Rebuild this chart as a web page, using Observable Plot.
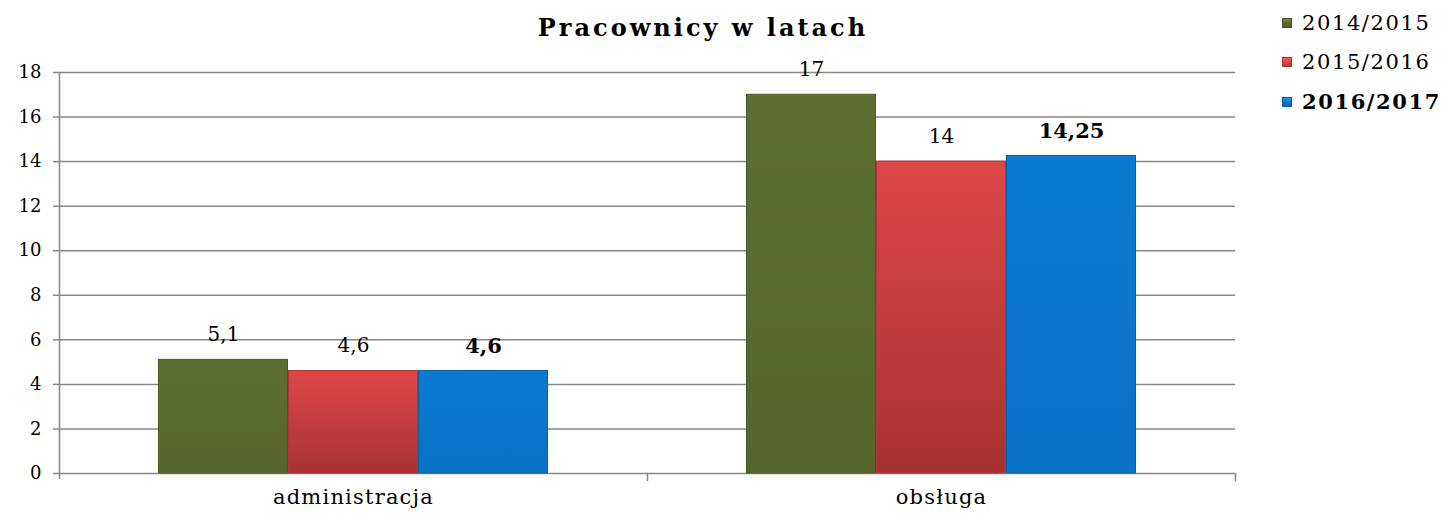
<!DOCTYPE html>
<html><head><meta charset="utf-8">
<script src="https://cdn.jsdelivr.net/npm/d3@7"></script>
<script src="https://cdn.jsdelivr.net/npm/@observablehq/plot@0.6"></script>
<style>
body{margin:0;background:#fff;}
#wrap{position:relative;width:1445px;height:518px;font-family:"DejaVu Serif",serif;color:#000;}
#title{position:absolute;left:0;width:1406px;top:12px;text-align:center;font-weight:bold;font-size:24px;letter-spacing:3px;line-height:32px;}
#legend{position:absolute;left:1282px;top:3px;}
.item{display:flex;align-items:center;height:39.5px;font-size:21px;letter-spacing:1.6px;white-space:nowrap;}
.sw{width:10px;height:10px;margin-right:10px;flex:none;}
#chart{position:absolute;left:0;top:0;}
g[aria-label="fx-axis tick label"] text{letter-spacing:1.2px;}
</style></head>
<body>
<svg width="0" height="0" style="position:absolute">
<defs>
<linearGradient id="g0" x1="0" y1="0" x2="0" y2="1"><stop offset="0" stop-color="#5e6f31"/><stop offset="1" stop-color="#55652b"/></linearGradient>
<linearGradient id="g1" x1="0" y1="0" x2="0" y2="1"><stop offset="0" stop-color="#df4747"/><stop offset="1" stop-color="#a83232"/></linearGradient>
<linearGradient id="g2" x1="0" y1="0" x2="0" y2="1"><stop offset="0" stop-color="#0b7bd2"/><stop offset="1" stop-color="#0872c4"/></linearGradient>
</defs>
</svg>
<div id="wrap">
<div id="chart"></div>
<div id="title">Pracownicy w latach</div>
<div id="legend"></div>
</div>
<script>
const categories = ["administracja", "obsługa"];
const series = ["2014/2015", "2015/2016", "2016/2017"];
const values2014 = [5.1, 17];
const values2015 = [4.6, 14];
const values2016 = [4.6, 14.25];
const yTicks = [0, 2, 4, 6, 8, 10, 12, 14, 16, 18];
const swatchColors = ["#5a6b2e", "#d94444", "#0a78cc"];
const boldSeries = "2016/2017";

const allValues = [values2014, values2015, values2016];
const rows = [];
series.forEach((s, i) => categories.forEach((c, j) => rows.push({cat: c, series: s, value: allValues[i][j], idx: i})));
const fmt = d => String(d).replace(".", ",");
const gridColor = "#868686";
const tickShape = {draw(context, l) { context.moveTo(0, 0); context.lineTo(0, -l); }};

const barMarks = series.map((s, i) => Plot.barY(rows.filter(r => r.series === s), {
  fx: "cat", x: "series", y: "value", fill: `url(#g${i})`, stroke: d3.color(swatchColors[i]).darker(0.6).formatHex(), strokeWidth: 1, insetLeft: 0.5, insetRight: 0.5
}));

const chart = Plot.plot({
  width: 1445, height: 518,
  marginLeft: 58, marginRight: 210, marginTop: 72, marginBottom: 45,
  style: {fontFamily: "DejaVu Serif", fontSize: "18px", color: "#000", background: "transparent", overflow: "visible"},
  fx: {domain: categories, padding: 0, label: null},
  x: {domain: series, paddingInner: 0, paddingOuter: 0.746, axis: null},
  y: {domain: [0, 18], axis: null},
  marks: [
    Plot.ruleY(yTicks, {stroke: gridColor, strokeWidth: 1.5, strokeOpacity: 1}),
    Plot.axisY({ticks: yTicks, tickSize: 6, tickPadding: 12, stroke: gridColor, strokeWidth: 1.5, strokeOpacity: 1, fontSize: 18, tickFormat: d => d, label: null, facetAnchor: "left"}),
    Plot.frame({anchor: "left", stroke: gridColor, strokeWidth: 1.5, strokeOpacity: 1, facetAnchor: "left"}),
    Plot.axisFx({anchor: "bottom", tickSize: 0, tickPadding: 16, fontSize: 21, label: null}),
    ...barMarks,
    Plot.text(rows.filter(r => r.series !== boldSeries), {fx: "cat", x: "series", y: "value", text: d => fmt(d.value), dy: -25, fontSize: 20, fill: "#000"}),
    Plot.text(rows.filter(r => r.series === boldSeries), {fx: "cat", x: "series", y: "value", text: d => fmt(d.value), dy: -25, fontSize: 21, fontWeight: "bold", fill: "#000"}),
    Plot.vector([0], {frameAnchor: "bottom-right", length: 7, rotate: 180, anchor: "start", shape: tickShape, stroke: gridColor, strokeWidth: 1.5}),
    Plot.vector([0], {frameAnchor: "bottom-left", length: 5, rotate: 180, anchor: "start", shape: tickShape, stroke: gridColor, strokeWidth: 1.5, facetAnchor: "left"})
  ]
});
document.getElementById("chart").appendChild(chart);

const legend = document.getElementById("legend");
series.forEach((s, i) => {
  const item = document.createElement("div");
  item.className = "item";
  if (s === boldSeries) item.style.fontWeight = "bold";
  const sw = document.createElement("div");
  sw.className = "sw";
  sw.style.background = `linear-gradient(${d3.color(swatchColors[i]).brighter(0.8)}, ${swatchColors[i]} 45%, ${d3.color(swatchColors[i]).darker(0.4)})`;
  sw.style.border = `1px solid ${d3.color(swatchColors[i]).darker(0.8)}`;
  sw.style.boxSizing = "border-box";
  const t = document.createElement("span");
  t.textContent = s;
  item.appendChild(sw); item.appendChild(t);
  legend.appendChild(item);
});
</script>
</body></html>
